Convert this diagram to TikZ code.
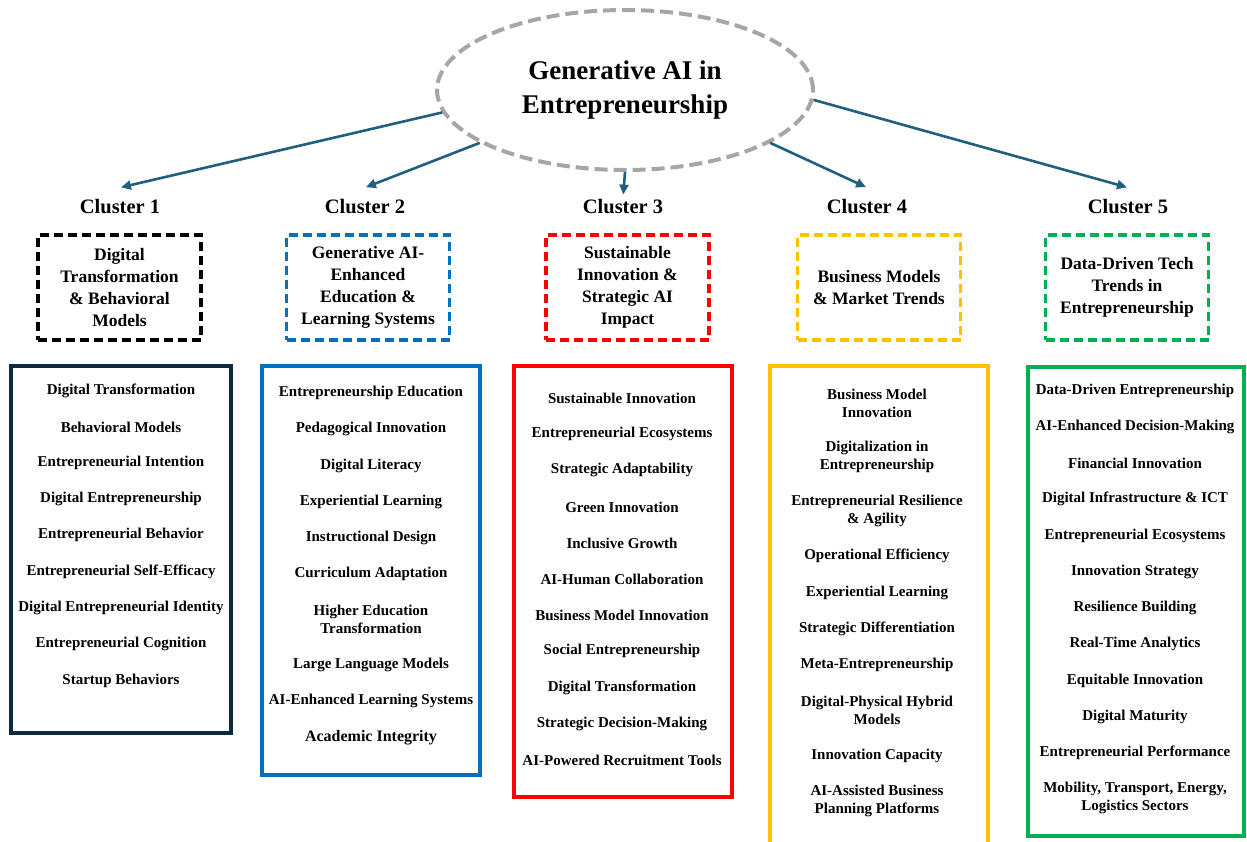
\documentclass[tikz,border=0pt]{standalone}
\usepackage{fontspec}
\setmainfont{Liberation Serif}
\usetikzlibrary{shapes.geometric,arrows.meta}
\definecolor{arrowc}{RGB}{31,96,128}
\definecolor{ellc}{RGB}{166,166,166}
\definecolor{navy}{RGB}{14,40,60}
\definecolor{cblue}{RGB}{0,112,192}
\definecolor{cred}{RGB}{255,0,0}
\definecolor{cgold}{RGB}{255,192,0}
\definecolor{cgreen}{RGB}{0,176,80}
\begin{document}
\begin{tikzpicture}[x=1pt,y=-1pt,
 arr/.style={draw=arrowc, line width=2.6pt, -{Triangle[length=10pt,width=9pt]}},
 clab/.style={font=\bfseries\fontsize{20.5}{24}\selectfont, anchor=base, inner sep=0pt},
 dbox/.style={draw, line width=3.5pt, dash pattern=on 9pt off 5pt, minimum width=163pt, minimum height=105pt, align=center, font=\bfseries\fontsize{17.5}{22}\selectfont, inner sep=2pt},
 lbox/.style={draw, line width=4pt, inner sep=0pt},
 item/.style={align=center, font=\bfseries\fontsize{15}{18}\selectfont, inner sep=0pt, yshift=-2pt},
]
\useasboundingbox (0,0) rectangle (1247,841);
\fill[white] (0,0) rectangle (1247,841);

% root
\node[ellipse, draw=ellc, line width=4pt, dash pattern=on 13pt off 6pt,
      minimum width=376pt, minimum height=160pt, inner sep=0pt, align=center,
      font=\bfseries\fontsize{27}{34}\selectfont] (root) at (625,90)
      {Generative AI in\\Entrepreneurship};

% cluster labels
\node[clab] (c1) at (120,213) {Cluster 1};
\node[clab] (c2) at (365,213) {Cluster 2};
\node[clab] (c3) at (623,213) {Cluster 3};
\node[clab] (c4) at (867,213) {Cluster 4};
\node[clab] (c5) at (1128,213) {Cluster 5};

% arrows
\draw[arr, shorten >=1pt] (root.187) -- ([yshift=11pt]c1.north);
\draw[arr, shorten >=1pt] (root.200) -- ([yshift=11pt]c2.north);
\draw[arr, shorten >=4pt] (root.270) -- (c3.north);
\draw[arr, shorten >=1pt] (root.340) -- ([yshift=11pt]c4.north);
\draw[arr, shorten >=1pt] (root.357) -- ([yshift=11pt]c5.north);

% dashed boxes
\node[dbox, draw=black] (b1) at (119.5,287.5) {Digital\\Transformation\\\& Behavioral\\Models};
\node[dbox, draw=cblue] (b2) at (368,287.5) {Generative AI-\\Enhanced\\Education \&\\Learning Systems};
\node[dbox, draw=cred] (b3) at (627.5,287.5) {Sustainable\\Innovation \&\\Strategic AI\\Impact};
\node[dbox, draw=cgold] (b4) at (879,287.5) {Business Models\\\& Market Trends};
\node[dbox, draw=cgreen] (b5) at (1127,287.5) {Data-Driven Tech\\Trends in\\Entrepreneurship};

% list boxes
\node[lbox, draw=navy, minimum width=220pt, minimum height=367pt] (l1) at (121,549.5) {};
\node[lbox, draw=cblue, minimum width=218pt, minimum height=409pt] (l2) at (371,570.5) {};
\node[lbox, draw=cred, minimum width=218pt, minimum height=431pt] (l3) at (623,581.5) {};
\node[lbox, draw=cgold, minimum width=218pt, minimum height=484pt] (l4) at (879,608) {};
\node[lbox, draw=cgreen, minimum width=216pt, minimum height=469pt] (l5) at (1136,601) {};

% list 1
\foreach \t/\yy [count=\i] in {{Digital Transformation}/389,{Behavioral Models}/425,{Entrepreneurial Intention}/461,{Digital Entrepreneurship}/497,{Entrepreneurial Behavior}/533,{Entrepreneurial Self-Efficacy}/570,{Digital Entrepreneurial Identity}/606,{Entrepreneurial Cognition}/642,{Startup Behaviors}/679}
  \node[item] (p1-\i) at (121,\yy) {\t};

% list 2
\foreach \t/\yy [count=\i] in {{Entrepreneurship Education}/391,{Pedagogical Innovation}/427,{Digital Literacy}/464,{Experiential Learning}/500,{Instructional Design}/536,{Curriculum Adaptation}/572,{Higher Education\\Transformation}/617,{Large Language Models}/663,{AI-Enhanced Learning Systems}/699}
  \node[item] (p2-\i) at (371,\yy) {\t};
\node[item, font=\bfseries\fontsize{16}{18}\selectfont] (p2-10) at (371,736) {Academic Integrity};

% list 3
\foreach \t/\yy [count=\i] in {{Sustainable Innovation}/396,{Entrepreneurial Ecosystems}/432,{Strategic Adaptability}/468,{Green Innovation}/505,{Inclusive Growth}/541,{AI-Human Collaboration}/577,{Business Model Innovation}/613,{Social Entrepreneurship}/649,{Digital Transformation}/686,{Strategic Decision-Making}/722,{AI-Powered Recruitment Tools}/758}
  \node[item] (p3-\i) at (622,\yy) {\t};

% list 4
\foreach \t/\yy [count=\i] in {{Business Model\\Innovation}/401,{Digitalization in\\Entrepreneurship}/455,{Entrepreneurial Resilience\\\& Agility}/509,{Operational Efficiency}/554,{Experiential Learning}/591,{Strategic Differentiation}/627,{Meta-Entrepreneurship}/663,{Digital-Physical Hybrid\\Models}/708,{Innovation Capacity}/754,{AI-Assisted Business\\Planning Platforms}/799}
  \node[item] (p4-\i) at (877,\yy) {\t};

% list 5
\foreach \t/\yy [count=\i] in {{Data-Driven Entrepreneurship}/389,{AI-Enhanced Decision-Making}/425,{Financial Innovation}/461,{Digital Infrastructure \& ICT}/497,{Entrepreneurial Ecosystems}/534,{Innovation Strategy}/570,{Resilience Building}/606,{Real-Time Analytics}/642,{Equitable Innovation}/679,{Digital Maturity}/715,{Entrepreneurial Performance}/751,{Mobility, Transport, Energy,\\Logistics Sectors}/796}
  \node[item] (p5-\i) at (1135,\yy) {\t};
\end{tikzpicture}
\end{document}
